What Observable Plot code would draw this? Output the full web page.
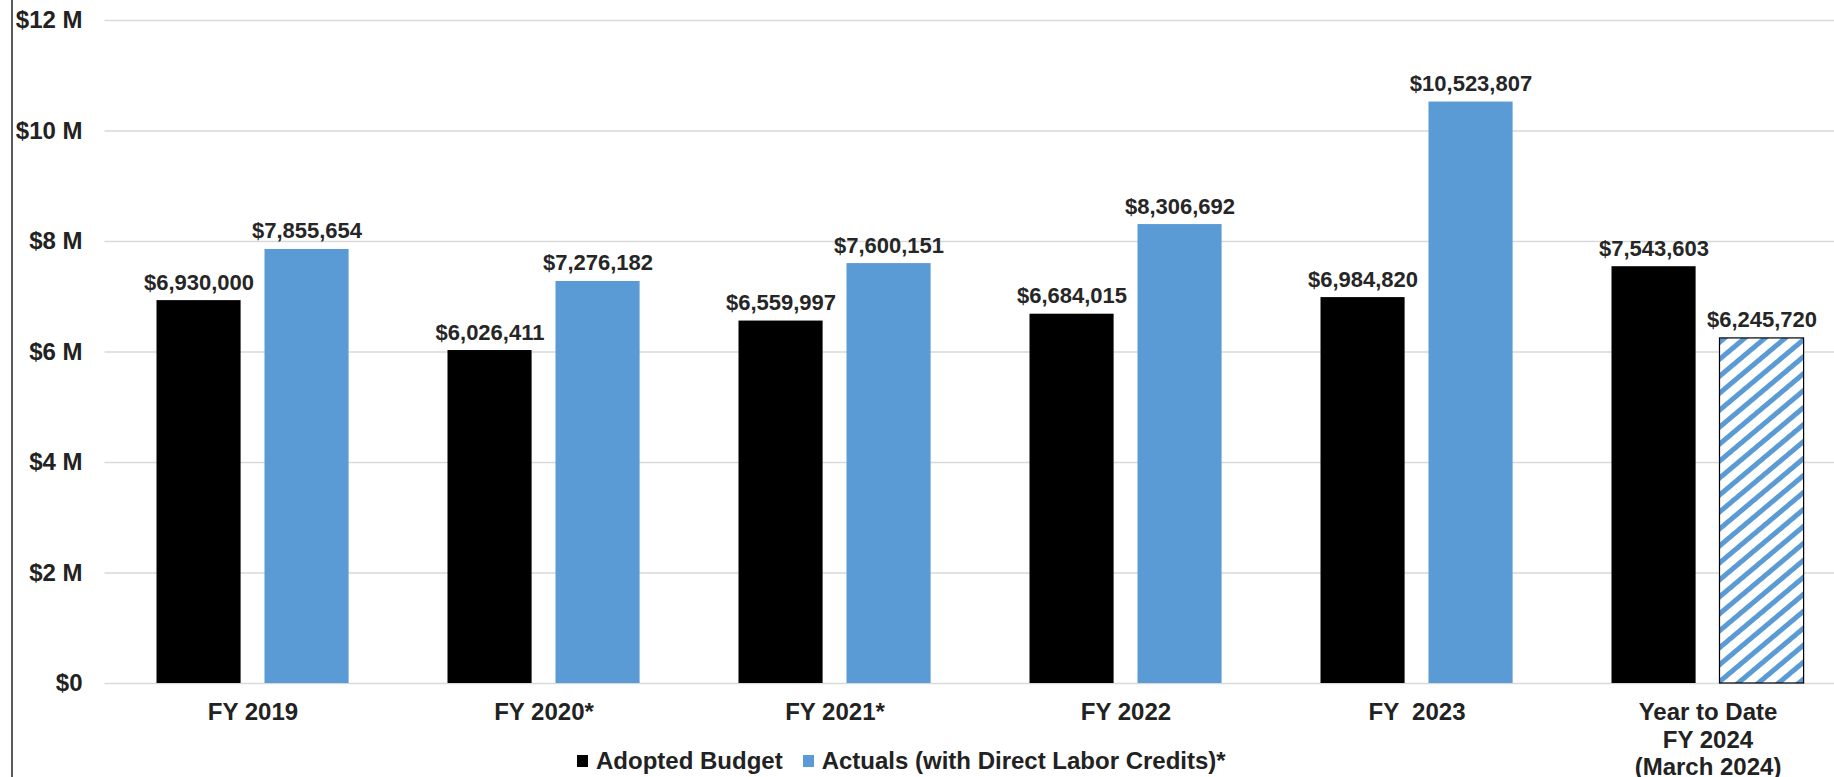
<!DOCTYPE html>
<html><head><meta charset="utf-8">
<script src="https://cdn.jsdelivr.net/npm/d3@7"></script>
<script src="https://cdn.jsdelivr.net/npm/@observablehq/plot@0.6"></script>
<style>
body{margin:0;background:#fff;font-family:"Liberation Sans",Arial,sans-serif;}
#wrap{position:relative;width:1834px;height:777px;overflow:hidden;}
#border{position:absolute;left:11px;top:0;width:2px;height:777px;background:#595959;}
#legend{position:absolute;left:577px;top:747px;display:flex;align-items:center;font-weight:bold;font-size:24px;color:#222;white-space:nowrap;}
#legend .item{display:flex;align-items:center;margin-right:20px;}
#legend .sw{width:11px;height:12px;display:inline-block;margin-right:8px;}
svg text{white-space:pre;}
</style></head><body>
<div id="wrap"><div id="chart"></div><div id="border"></div><div id="legend"></div></div>
<script>
const categories = ["FY 2019", "FY 2020*", "FY 2021*", "FY 2022", "FY  2023", "Year to Date\nFY 2024\n(March 2024)"];
const adopted = [6930000, 6026411, 6559997, 6684015, 6984820, 7543603];
const actuals = [7855654, 7276182, 7600151, 8306692, 10523807, 6245720];
const hatchedCategory = "Year to Date\nFY 2024\n(March 2024)";
const seriesNames = ["Adopted Budget", "Actuals (with Direct Labor Credits)*"];
const seriesColors = ["#000000", "#5B9BD5"];
const yTicks = [0, 2e6, 4e6, 6e6, 8e6, 10e6, 12e6];
const yTickLabels = ["$0", "$2 M", "$4 M", "$6 M", "$8 M", "$10 M", "$12 M"];

const rows = categories.map((c, i) => ({category: c, adopted: adopted[i], actual: actuals[i], hatched: c === hatchedCategory}));
const fmt = d3.format("$,");

const bw = 291.9;
const leftInsets = {insetLeft: 49.5, insetRight: bw - 49.5 - 85};
const rightInsets = {insetLeft: 157.5, insetRight: bw - 157.5 - 85};

const chart = Plot.plot({
  width: 1834,
  height: 777,
  marginTop: 20,
  marginBottom: 94,
  marginLeft: 104.5,
  marginRight: 0,
  style: {fontFamily: "Liberation Sans, Arial, sans-serif", fontSize: "24px", fontWeight: "bold", color: "#222", background: "white", overflow: "visible"},
  x: {domain: categories, range: [104.5, 104.5 + 6 * bw], padding: 0},
  y: {domain: [0, 12e6]},
  marks: [
    Plot.ruleY(yTicks, {stroke: "#d9d9d9", strokeWidth: 1.6}),
    Plot.barY(rows, {x: "category", y: "adopted", fill: seriesColors[0], ...leftInsets}),
    Plot.barY(rows.filter(d => !d.hatched), {x: "category", y: "actual", fill: seriesColors[1], ...rightInsets}),
    Plot.barY(rows.filter(d => d.hatched), {x: "category", y: "actual", fill: "url(#hatch)", stroke: "#000", strokeWidth: 1.2, ...rightInsets}),
    Plot.text(rows, {x: "category", y: "adopted", text: d => fmt(d.adopted), dx: -54, dy: -11, lineAnchor: "bottom", fontSize: 22, fontWeight: "bold", fill: "#262626"}),
    Plot.text(rows, {x: "category", y: "actual", text: d => fmt(d.actual), dx: 54, dy: -11, lineAnchor: "bottom", fontSize: 22, fontWeight: "bold", fill: "#262626"}),
    Plot.axisX({tickSize: 0, tickPadding: 17, label: null, lineHeight: 1.15, fontSize: 24, fontWeight: "bold"}),
    Plot.axisY({ticks: yTicks, tickFormat: d => yTickLabels[yTicks.indexOf(d)], tickSize: 0, tickPadding: 22.5, label: null, fontSize: 24, fontWeight: "bold"})
  ]
});

d3.select(chart).insert("defs", ":first-child").html(
  '<pattern id="hatch" patternUnits="userSpaceOnUse" width="13" height="13" patternTransform="rotate(50)">' +
  '<rect width="13" height="13" fill="white"/><rect x="0" y="0" width="5" height="13" fill="' + seriesColors[1] + '"/></pattern>'
);
document.getElementById("chart").appendChild(chart);

const legend = d3.select("#legend");
seriesNames.forEach((name, i) => {
  const item = legend.append("div").attr("class", "item");
  item.append("span").attr("class", "sw").style("background", seriesColors[i]);
  item.append("span").text(name);
});
</script>
</body></html>
